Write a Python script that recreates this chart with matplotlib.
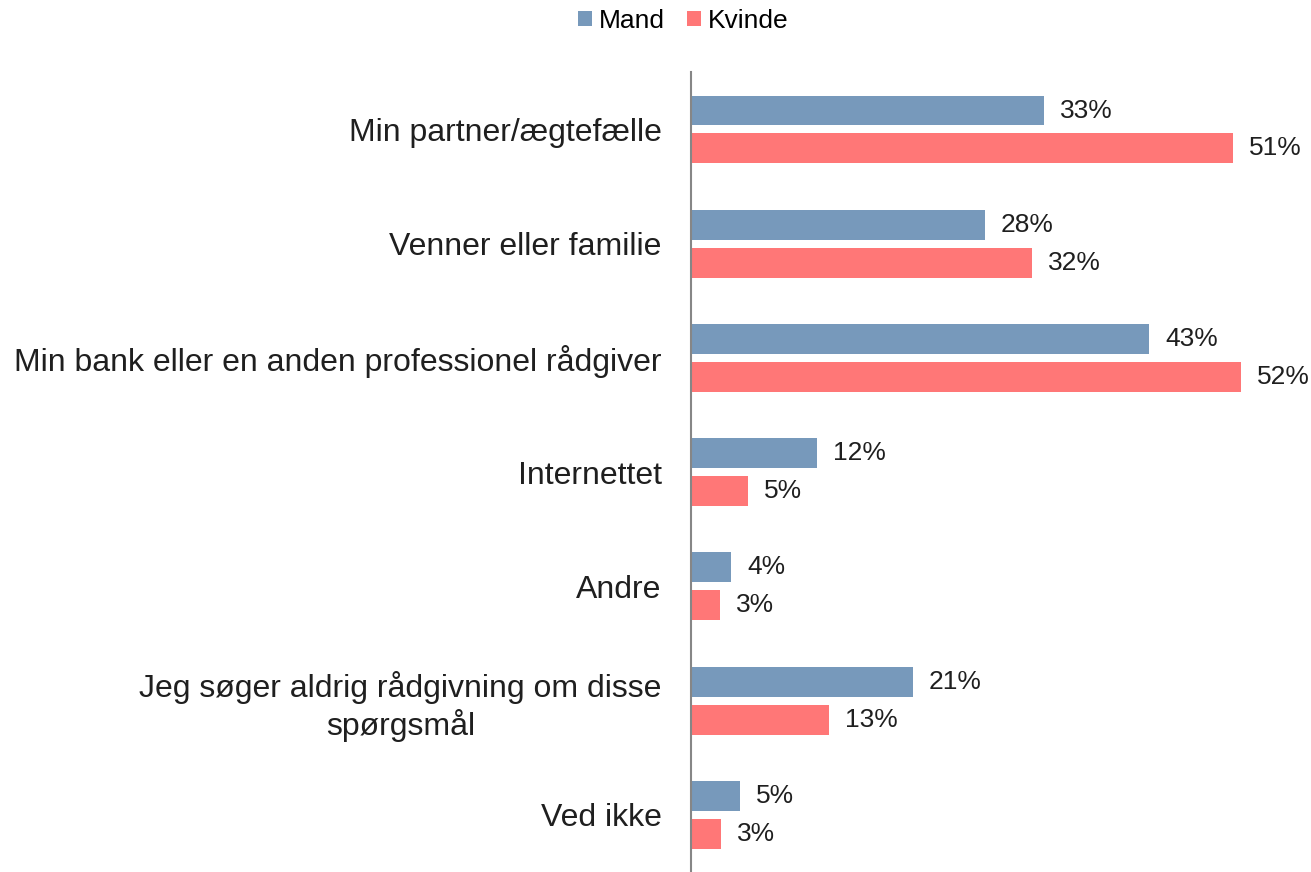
import numpy as np
import matplotlib
matplotlib.use("Agg")
from matplotlib import pyplot as plt

plt.rcParams['font.family'] = ['Liberation Sans', 'DejaVu Sans']

categories = ["Min partner/ægtefælle", "Venner eller familie",
              "Min bank eller en anden professionel rådgiver", "Internettet",
              "Andre", "Jeg søger aldrig rådgivning om disse\nspørgsmål", "Ved ikke"]
mand = [33.1, 27.6, 43.0, 11.8, 3.8, 20.8, 4.6]
kvinde = [50.9, 32.0, 51.6, 5.4, 2.7, 13.0, 2.8]

blue = "#7799BB"
red = "#FF7777"

fig = plt.figure(figsize=(13.11, 8.72), dpi=100)
ax = fig.add_axes([0.527, 0.0, 0.473, 0.917])

y = np.arange(len(categories))
h = 0.262
off = 0.166
b1 = ax.barh(y - off, mand, height=h, color=blue, label="Mand")
b2 = ax.barh(y + off, kvinde, height=h, color=red, label="Kvinde")

for bars, vals in ((b1, mand), (b2, kvinde)):
    for bar, v in zip(bars, vals):
        ax.text(bar.get_width() + 1.5, bar.get_y() + bar.get_height() / 2, f"{v:.0f}%",
                va="center", ha="left", fontsize=19, color="#1f1f1f")

ax.set_ylim(len(categories) - 0.5, -0.5)
ax.set_xlim(0, 58.2)
ax.set_yticks(y)
ax.set_yticklabels(categories, fontsize=23, color="#1f1f1f", multialignment="center")
ax.tick_params(axis="y", length=0, pad=21)
ax.set_xticks([])
for s in ["top", "right", "bottom"]:
    ax.spines[s].set_visible(False)
ax.spines["left"].set_color("#868686")
ax.spines["left"].set_linewidth(1.5)

fig.legend(handles=[b1, b2], loc="upper center", bbox_to_anchor=(0.521, 1.017), ncol=2,
           frameon=False, fontsize=19, handlelength=0.53, handleheight=0.53,
           handletextpad=0.25, columnspacing=0.85)

plt.savefig("out.png", dpi=100)
plt.close()
